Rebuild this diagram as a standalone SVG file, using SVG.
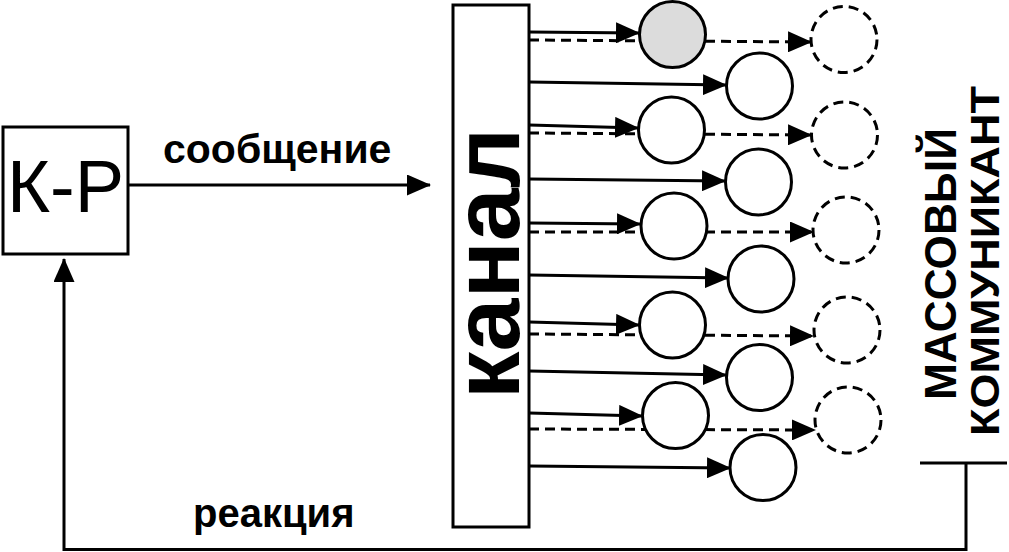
<svg xmlns="http://www.w3.org/2000/svg" width="1009" height="552" viewBox="0 0 1009 552">
<style>
.box{fill:#fff;stroke:#000;stroke-width:3}
.c{fill:#fff;stroke:#000;stroke-width:3}
.cg{fill:#dcdcdc;stroke:#000;stroke-width:3}
.cd{fill:none;stroke:#000;stroke-width:3;stroke-dasharray:10,6}
.ln{fill:none;stroke:#000;stroke-width:3}
.ld{fill:none;stroke:#000;stroke-width:3;stroke-dasharray:10,6}
.a{marker-end:url(#ah)}
.t{font-family:"Liberation Sans",Arial,sans-serif;fill:#000}
.b{font-weight:bold}
</style>
<defs>
<marker id="ah" viewBox="0 0 24 21" refX="23" refY="10.5" markerWidth="24" markerHeight="21" markerUnits="userSpaceOnUse" orient="auto">
<path d="M0,0 L24,10.5 L0,21 z" fill="#000"/>
</marker>
</defs>
<g id="connectors">
<line class="ln a" x1="128" y1="185" x2="430" y2="185"/>
<polyline class="ln a" points="966,463 966,549.5 64,549.5 64,259"/>
<line class="ln" x1="920" y1="463" x2="1007" y2="463"/>
<line class="ld a" x1="529" y1="40" x2="811" y2="42"/>
<line class="ld a" x1="529" y1="133" x2="811" y2="135"/>
<line class="ld a" x1="529" y1="232" x2="813" y2="232"/>
<line class="ld a" x1="529" y1="334" x2="813" y2="336"/>
<line class="ld a" x1="529" y1="429" x2="815" y2="430"/>
</g>
<g id="col1-1"><circle class="cg" cx="672.5" cy="34.5" r="33"/></g>
<g id="col1-2"><circle class="c" cx="671.5" cy="130" r="33"/></g>
<g id="col1-3"><circle class="c" cx="674" cy="226" r="33"/></g>
<g id="col1-4"><circle class="c" cx="672.5" cy="325" r="33"/></g>
<g id="col1-5"><circle class="c" cx="675.5" cy="415.5" r="33"/></g>
<g id="col2-1"><circle class="c" cx="759.5" cy="86" r="33"/></g>
<g id="col2-2"><circle class="c" cx="758.5" cy="182" r="33"/></g>
<g id="col2-3"><circle class="c" cx="761" cy="279" r="33"/></g>
<g id="col2-4"><circle class="c" cx="759.5" cy="377.5" r="33"/></g>
<g id="col2-5"><circle class="c" cx="763" cy="467.5" r="33"/></g>
<g id="col3-1"><circle class="cd" cx="844" cy="39.5" r="33"/></g>
<g id="col3-2"><circle class="cd" cx="844.5" cy="135" r="33"/></g>
<g id="col3-3"><circle class="cd" cx="846" cy="230" r="33"/></g>
<g id="col3-4"><circle class="cd" cx="847" cy="330" r="33"/></g>
<g id="col3-5"><circle class="cd" cx="848" cy="420" r="33"/></g>
<g id="connectors-solid">
<line class="ln a" x1="529" y1="32" x2="639" y2="33"/>
<line class="ln a" x1="529" y1="125" x2="638" y2="128"/>
<line class="ln a" x1="529" y1="223" x2="640" y2="224"/>
<line class="ln a" x1="529" y1="322" x2="639" y2="325"/>
<line class="ln a" x1="529" y1="413" x2="642" y2="416"/>
<line class="ln a" x1="529" y1="82" x2="726" y2="85"/>
<line class="ln a" x1="529" y1="179" x2="725" y2="181"/>
<line class="ln a" x1="529" y1="275" x2="728" y2="278"/>
<line class="ln a" x1="529" y1="371" x2="726" y2="375"/>
<line class="ln a" x1="529" y1="466" x2="730" y2="468"/>
</g>
<g id="kr">
<rect class="box" x="3" y="127" width="125" height="127"/>
<text class="t" x="65.5" y="212" font-size="74" text-anchor="middle">К-Р</text>
</g>
<g id="kanal">
<rect class="box" x="453" y="5" width="76" height="522"/>
<text class="t b" font-size="95" text-anchor="middle" transform="translate(519,263.5) rotate(-90)">канал</text>
</g>
<g id="mass">
<text class="t b" font-size="44" text-anchor="middle" textLength="272" lengthAdjust="spacingAndGlyphs" transform="translate(956,264) rotate(-90)">МАССОВЫЙ</text>
<text class="t b" font-size="40" text-anchor="middle" textLength="350" lengthAdjust="spacingAndGlyphs" transform="translate(999,261) rotate(-90)">КОММУНИКАНТ</text>
</g>
<g id="labels">
<text class="t b" x="163" y="163" font-size="41">сообщение</text>
<text class="t b" x="193" y="527" font-size="40">реакция</text>
</g>
</svg>
